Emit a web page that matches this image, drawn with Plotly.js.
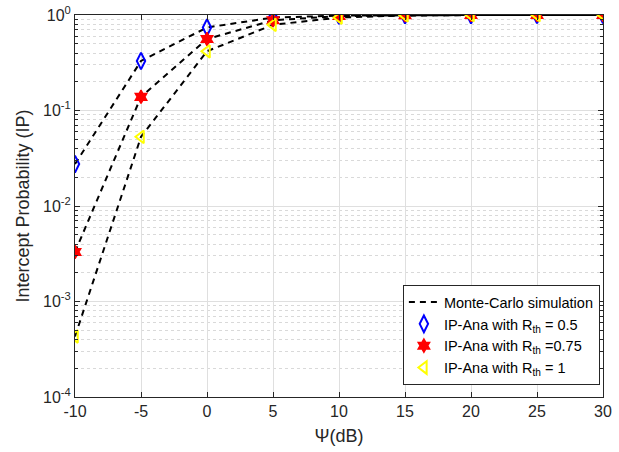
<!DOCTYPE html>
<html>
<head>
<meta charset="utf-8">
<script src="https://cdn.plot.ly/plotly-3.0.1.min.js"></script>
<style>html,body{margin:0;padding:0;background:#fff;}#chart{width:619px;height:452px;}</style>
</head>
<body>
<div id="chart"></div>
<script>
var psi = [-10, -5, 0, 5, 10, 15, 20, 25, 30];
var simR05 = [0.0275, 0.33, 0.74, 0.94, 0.985, 0.997, 0.999, 1, 1];
var simR075 = [0.0033, 0.139, 0.56, 0.88, 0.975, 0.995, 0.999, 1, 1];
var simR1 = [0.00043, 0.053, 0.417, 0.79, 0.94, 0.99, 0.998, 0.999, 1];
var anaR05 = [0.0275, 0.33, 0.74, 0.94, 0.985, 0.997, 0.999, 1, 1];
var anaR075 = [0.0033, 0.139, 0.56, 0.88, 0.975, 0.995, 0.999, 1, 1];
var anaR1 = [0.00043, 0.053, 0.417, 0.79, 0.94, 0.99, 0.998, 0.999, 1];
var xTicks = [-10, -5, 0, 5, 10, 15, 20, 25, 30];
var yTickVals = [1e-4, 1e-3, 1e-2, 1e-1, 1];
var yTickText = ['10<sup>-4</sup>', '10<sup>-3</sup>', '10<sup>-2</sup>', '10<sup>-1</sup>', '10<sup>0</sup>'];

var lineStyle = {color: 'black', width: 2, dash: '6px,5px'};
var traces = [
  {x: psi, y: simR05, mode: 'lines', line: lineStyle, name: 'Monte-Carlo simulation', legendgroup: 'mc', showlegend: true},
  {x: psi, y: simR075, mode: 'lines', line: lineStyle, name: 'Monte-Carlo simulation', legendgroup: 'mc', showlegend: false},
  {x: psi, y: simR1, mode: 'lines', line: lineStyle, name: 'Monte-Carlo simulation', legendgroup: 'mc', showlegend: false},
  {x: psi, y: anaR05, mode: 'markers', name: 'IP-Ana with R<sub>th</sub> = 0.5',
   marker: {symbol: 'diamond-tall-open', size: 12, color: '#0000ff', line: {width: 2, color: '#0000ff'}}},
  {x: psi, y: anaR075, mode: 'markers', name: 'IP-Ana with R<sub>th</sub> =0.75',
   marker: {symbol: 'hexagram', size: 10, color: '#ff0000', line: {width: 1.5, color: '#ff0000'}}},
  {x: psi, y: anaR1, mode: 'markers', name: 'IP-Ana with R<sub>th</sub> = 1',
   marker: {symbol: 'triangle-left-open', size: 11, color: '#ffff00', line: {width: 2, color: '#ffff00'}}}
];

var layout = {
  width: 619, height: 452,
  margin: {l: 75, r: 16, t: 15, b: 55, autoexpand: false},
  paper_bgcolor: 'white', plot_bgcolor: 'white',
  font: {family: 'Liberation Sans, Arial, sans-serif', size: 16, color: '#262626'},
  showlegend: true,
  xaxis: {
    range: [-10, 30], tickvals: xTicks, ticktext: xTicks.map(String),
    showgrid: true, gridcolor: '#dfdfdf', gridwidth: 1,
    ticks: 'inside', ticklen: 5, tickcolor: '#262626',
    showline: true, linecolor: '#262626', linewidth: 1, mirror: 'ticks',
    zeroline: false, automargin: false,
    tickfont: {size: 16, color: '#262626'},
    title: {text: '\u03a8(dB)', font: {size: 18, color: '#262626'}, standoff: 10}
  },
  yaxis: {
    type: 'log', range: [-4, 0], tickvals: yTickVals, ticktext: yTickText,
    showgrid: true, gridcolor: '#dfdfdf', gridwidth: 1,
    ticks: 'inside', ticklen: 5, tickcolor: '#262626',
    showline: true, linecolor: '#262626', linewidth: 1, mirror: 'ticks',
    zeroline: false, automargin: false,
    tickfont: {size: 16, color: '#262626'},
    minor: {dtick: 'D1', showgrid: true, gridcolor: '#d9d9d9', griddash: 'dot', ticks: 'inside', ticklen: 3, tickcolor: '#262626'},
    title: {text: 'Intercept Probability (IP)', font: {size: 18, color: '#262626'}, standoff: 8}
  },
  legend: {
    x: 0.621, y: 0.293, xanchor: 'left', yanchor: 'top',
    bgcolor: 'white', bordercolor: '#262626', borderwidth: 1,
    font: {size: 14.5, color: '#000000'},
    tracegroupgap: 0, itemwidth: 30
  }
};

Plotly.newPlot('chart', traces, layout, {displayModeBar: false, staticPlot: true});
</script>
</body>
</html>
